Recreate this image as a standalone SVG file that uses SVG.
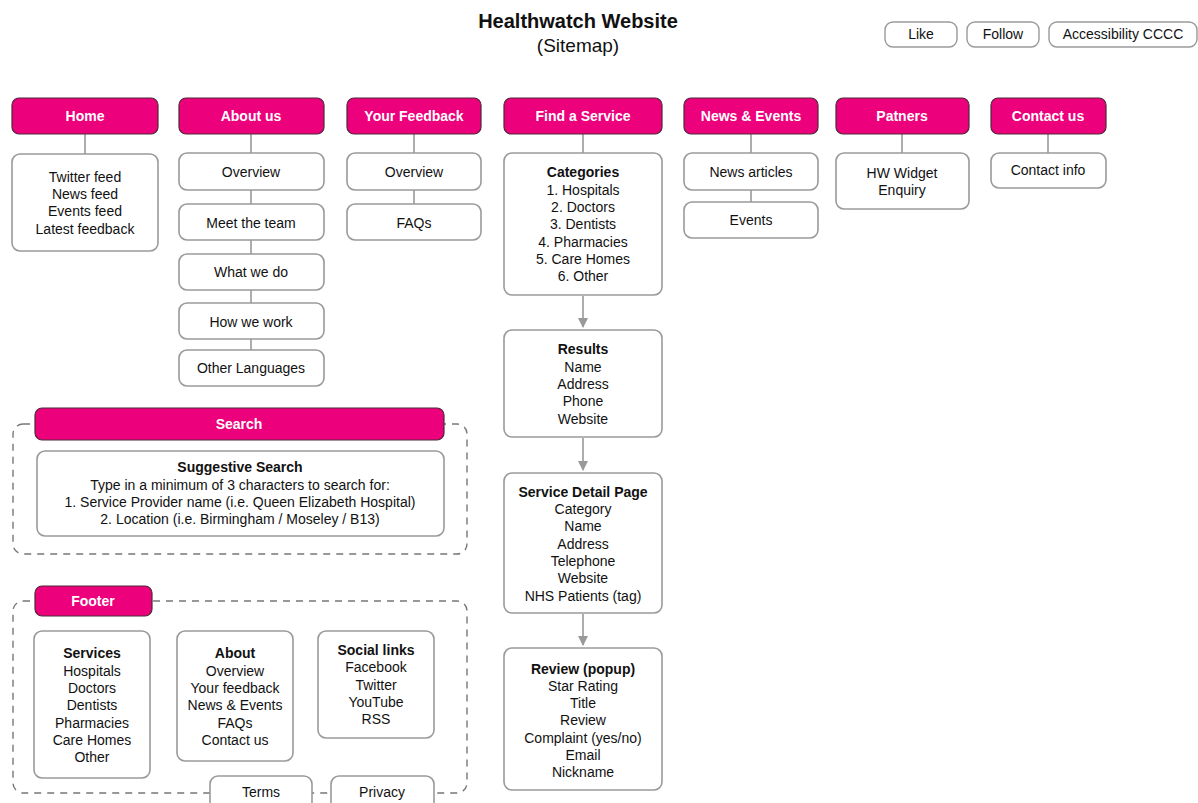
<svg xmlns="http://www.w3.org/2000/svg" width="1198" height="803" viewBox="0 0 1198 803">
  <style>
    text { font-family: "Liberation Sans", Arial, sans-serif; font-size: 14px; fill: #111; text-anchor: middle; }
    .title { font-size: 20px; font-weight: bold; }
    .subtitle { font-size: 19px; }
    .hd rect { fill: #ec007c; stroke: #4a2a35; stroke-width: 1.2; }
    .hd text { fill: #fff; font-weight: bold; }
    .bx rect { fill: #fff; stroke: #9a9a9a; stroke-width: 1.6; }
    .b { font-weight: bold; }
    .btn rect { fill: #fff; stroke: #9a9a9a; stroke-width: 1.4; }
    .grp { fill: none; stroke: #777; stroke-width: 1.4; stroke-dasharray: 7 6; }
    .ln { stroke: #999; stroke-width: 1.6; fill: none; }
    .ar { stroke: #999; stroke-width: 1.6; fill: none; marker-end: url(#ah); }
  </style>
  <defs>
    <marker id="ah" markerWidth="10" markerHeight="10" refX="9" refY="5" orient="auto" markerUnits="userSpaceOnUse">
      <path d="M0,0 L10,5 L0,10 Z" fill="#999"/>
    </marker>
  </defs>
  <rect width="1198" height="803" fill="#fff"/>

  <!-- title -->
  <g id="title">
    <text class="title" x="578" y="28">Healthwatch Website</text>
    <text class="subtitle" x="578" y="52">(Sitemap)</text>
  </g>

  <!-- top right buttons -->
  <g id="btn-like" class="btn"><rect x="885" y="22" width="72" height="25" rx="8"/><text x="921" y="39">Like</text></g>
  <g id="btn-follow" class="btn"><rect x="967" y="22" width="72" height="25" rx="8"/><text x="1003" y="39">Follow</text></g>
  <g id="btn-access" class="btn"><rect x="1049" y="22" width="148" height="25" rx="8"/><text x="1123" y="39">Accessibility CCCC</text></g>

  <!-- group outlines -->
  <g id="search-group"><rect class="grp" x="13" y="424" width="454" height="130" rx="10"/></g>
  <g id="footer-group"><rect class="grp" x="13" y="601" width="454" height="192" rx="10"/></g>

  <!-- connectors -->
  <g id="connectors">
    <path class="ln" d="M85,134 V154"/>
    <path class="ln" d="M251,134 V153 M251,190 V204 M251,240 V254 M251,290 V303 M251,339 V350"/>
    <path class="ln" d="M414,134 V153 M414,190 V204"/>
    <path class="ln" d="M583,134 V153"/>
    <path class="ar" d="M583,296 V327"/>
    <path class="ar" d="M583,438 V470"/>
    <path class="ar" d="M583,614 V645"/>
    <path class="ln" d="M751,134 V153 M751,190 V202"/>
    <path class="ln" d="M902,134 V153"/>
    <path class="ln" d="M1048,134 V153"/>
  </g>

  <!-- Home -->
  <g id="home" class="hd"><rect x="12" y="98" width="146" height="36" rx="7"/><text x="85" y="121">Home</text></g>
  <g id="home-feeds" class="bx"><rect x="12" y="154" width="146" height="97" rx="8"/>
    <text x="85" y="182">Twitter feed</text><text x="85" y="199">News feed</text><text x="85" y="216">Events feed</text><text x="85" y="234">Latest feedback</text></g>

  <!-- About us -->
  <g id="about" class="hd"><rect x="179" y="98" width="145" height="36" rx="7"/><text x="251" y="121">About us</text></g>
  <g id="about-overview" class="bx"><rect x="179" y="153" width="145" height="37" rx="8"/><text x="251" y="177">Overview</text></g>
  <g id="about-team" class="bx"><rect x="179" y="204" width="145" height="36" rx="8"/><text x="251" y="228">Meet the team</text></g>
  <g id="about-what" class="bx"><rect x="179" y="254" width="145" height="36" rx="8"/><text x="251" y="277">What we do</text></g>
  <g id="about-how" class="bx"><rect x="179" y="303" width="145" height="36" rx="8"/><text x="251" y="327">How we work</text></g>
  <g id="about-lang" class="bx"><rect x="179" y="350" width="145" height="36" rx="8"/><text x="251" y="373">Other Languages</text></g>

  <!-- Your Feedback -->
  <g id="feedback" class="hd"><rect x="347" y="98" width="134" height="36" rx="7"/><text x="414" y="121">Your Feedback</text></g>
  <g id="feedback-overview" class="bx"><rect x="347" y="153" width="134" height="37" rx="8"/><text x="414" y="177">Overview</text></g>
  <g id="feedback-faqs" class="bx"><rect x="347" y="204" width="134" height="36" rx="8"/><text x="414" y="228">FAQs</text></g>

  <!-- Find a Service -->
  <g id="find" class="hd"><rect x="504" y="98" width="158" height="36" rx="7"/><text x="583" y="121">Find a Service</text></g>
  <g id="categories" class="bx"><rect x="504" y="153" width="158" height="142" rx="8"/>
    <text class="b" x="583" y="177">Categories</text>
    <text x="583" y="195">1. Hospitals</text><text x="583" y="212">2. Doctors</text><text x="583" y="229">3. Dentists</text>
    <text x="583" y="247">4. Pharmacies</text><text x="583" y="264">5. Care Homes</text><text x="583" y="281">6. Other</text></g>
  <g id="results" class="bx"><rect x="504" y="330" width="158" height="107" rx="8"/>
    <text class="b" x="583" y="354">Results</text>
    <text x="583" y="372">Name</text><text x="583" y="389">Address</text><text x="583" y="406">Phone</text><text x="583" y="424">Website</text></g>
  <g id="detail" class="bx"><rect x="504" y="473" width="158" height="140" rx="8"/>
    <text class="b" x="583" y="497">Service Detail Page</text>
    <text x="583" y="514">Category</text><text x="583" y="531">Name</text><text x="583" y="549">Address</text>
    <text x="583" y="566">Telephone</text><text x="583" y="583">Website</text><text x="583" y="601">NHS Patients (tag)</text></g>
  <g id="review" class="bx"><rect x="504" y="648" width="158" height="142" rx="8"/>
    <text class="b" x="583" y="674">Review (popup)</text>
    <text x="583" y="691">Star Rating</text><text x="583" y="708">Title</text><text x="583" y="725">Review</text>
    <text x="583" y="743">Complaint (yes/no)</text><text x="583" y="760">Email</text><text x="583" y="777">Nickname</text></g>

  <!-- News & Events -->
  <g id="news" class="hd"><rect x="684" y="98" width="134" height="36" rx="7"/><text x="751" y="121">News &amp; Events</text></g>
  <g id="news-articles" class="bx"><rect x="684" y="153" width="134" height="37" rx="8"/><text x="751" y="177">News articles</text></g>
  <g id="news-events" class="bx"><rect x="684" y="202" width="134" height="36" rx="8"/><text x="751" y="225">Events</text></g>

  <!-- Patners -->
  <g id="partners" class="hd"><rect x="836" y="98" width="133" height="36" rx="7"/><text x="902" y="121">Patners</text></g>
  <g id="partners-widget" class="bx"><rect x="836" y="153" width="133" height="56" rx="8"/>
    <text x="902" y="178">HW Widget</text><text x="902" y="195">Enquiry</text></g>

  <!-- Contact us -->
  <g id="contact" class="hd"><rect x="991" y="98" width="115" height="36" rx="7"/><text x="1048" y="121">Contact us</text></g>
  <g id="contact-info" class="bx"><rect x="991" y="153" width="115" height="35" rx="8"/><text x="1048" y="175">Contact info</text></g>

  <!-- Search -->
  <g id="search" class="hd"><rect x="35" y="408" width="409" height="32" rx="7"/><text x="239" y="429">Search</text></g>
  <g id="search-box" class="bx"><rect x="37" y="451" width="407" height="85" rx="8"/>
    <text class="b" x="240" y="472">Suggestive Search</text>
    <text x="240" y="490">Type in a minimum of 3 characters to search for:</text>
    <text x="240" y="507">1. Service Provider name (i.e. Queen Elizabeth Hospital)</text>
    <text x="240" y="524">2. Location (i.e. Birmingham / Moseley / B13)</text></g>

  <!-- Footer -->
  <g id="footer" class="hd"><rect x="35" y="586" width="117" height="30" rx="7"/><text x="93" y="606">Footer</text></g>
  <g id="footer-services" class="bx"><rect x="34" y="631" width="116" height="147" rx="8"/>
    <text class="b" x="92" y="658">Services</text>
    <text x="92" y="676">Hospitals</text><text x="92" y="693">Doctors</text><text x="92" y="710">Dentists</text>
    <text x="92" y="728">Pharmacies</text><text x="92" y="745">Care Homes</text><text x="92" y="762">Other</text></g>
  <g id="footer-about" class="bx"><rect x="177" y="631" width="116" height="130" rx="8"/>
    <text class="b" x="235" y="658">About</text>
    <text x="235" y="676">Overview</text><text x="235" y="693">Your feedback</text><text x="235" y="710">News &amp; Events</text>
    <text x="235" y="728">FAQs</text><text x="235" y="745">Contact us</text></g>
  <g id="footer-social" class="bx"><rect x="318" y="631" width="116" height="107" rx="8"/>
    <text class="b" x="376" y="655">Social links</text>
    <text x="376" y="672">Facebook</text><text x="376" y="690">Twitter</text><text x="376" y="707">YouTube</text><text x="376" y="724">RSS</text></g>
  <g id="footer-terms" class="bx"><rect x="210" y="776" width="102" height="40" rx="8"/><text x="261" y="797">Terms</text></g>
  <g id="footer-privacy" class="bx"><rect x="331" y="776" width="103" height="40" rx="8"/><text x="382" y="797">Privacy</text></g>
</svg>
